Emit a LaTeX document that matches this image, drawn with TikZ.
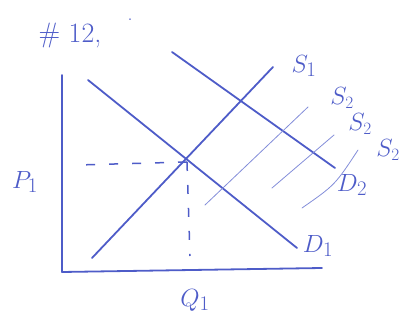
\documentclass[tikz,border=0pt]{standalone}
\usetikzlibrary{positioning}

\definecolor{pen}{RGB}{78,92,200}

\begin{document}
\begin{tikzpicture}[
    x=1pt, y=-1pt,
    % Style definitions
    axis/.style={draw=pen, line width=1.8pt, line cap=round, line join=round},
    curve/.style={draw=pen, line width=1.8pt, line cap=round},
    shiftline/.style={draw=pen!70, line width=0.8pt, line cap=round},
    guide/.style={draw=pen, line width=1.5pt, dash pattern=on 9pt off 14pt},
    lbl/.style={text=pen, font=\fontsize{28}{28}\selectfont, inner sep=1pt},
]
\useasboundingbox (0,0) rectangle (410,323);

% Axes
\coordinate (top) at (62,75);
\coordinate (origin) at (62,272);
\coordinate (right) at (322,268);
\draw[axis] (top) -- (origin) -- (right);

% Curve end points
\coordinate (s1a) at (92,258);  \coordinate (s1b) at (273,67);
\coordinate (d1a) at (88,80);   \coordinate (d1b) at (297,248);
\coordinate (d2a) at (172,52);  \coordinate (d2b) at (335,168);
\coordinate (s2a) at (205,205); \coordinate (s2b) at (308,107);
\coordinate (s3a) at (272,188); \coordinate (s3b) at (334,135);
\coordinate (s4a) at (302,208); \coordinate (s4b) at (358,150);

\draw[curve] (s1a) -- (s1b);
\draw[curve] (d1a) -- (d1b);
\draw[curve] (d2a) -- (d2b);
\draw[shiftline] (s2a) -- (s2b);
\draw[shiftline] (s3a) -- (s3b);
\draw[shiftline] (s4a) .. controls (335,185) .. (s4b);

% Equilibrium guides
\coordinate (eq) at (187,162);
\coordinate (pstart) at (78,165);
\coordinate (qend) at (190,256);
\draw[guide] (eq) -- (pstart);
\draw[guide] (eq) -- (qend);

% Labels
\node[lbl] (title) at (70,36) {\# 12,};
\node[lbl, font=\fontsize{20}{20}\selectfont] (dot) at (130,20) {.};
\node[lbl] (ls1) at (304,66) {$S_1$};
\node[lbl, font=\fontsize{24}{24}\selectfont] (ls2) at (342,98) {$S_2$};
\node[lbl, font=\fontsize{24}{24}\selectfont] (ls3) at (360,124) {$S_2$};
\node[lbl, font=\fontsize{24}{24}\selectfont] (ls4) at (388,150) {$S_2$};
\node[lbl] (ld2) at (352,185) {$D_2$};
\node[lbl] (ld1) at (318,246) {$D_1$};
\node[lbl] (lp1) at (25,182) {$P_1$};
\node[lbl, font=\fontsize{32}{32}\selectfont] (lq1) at (195,300) {$Q_1$};

\end{tikzpicture}
\end{document}
